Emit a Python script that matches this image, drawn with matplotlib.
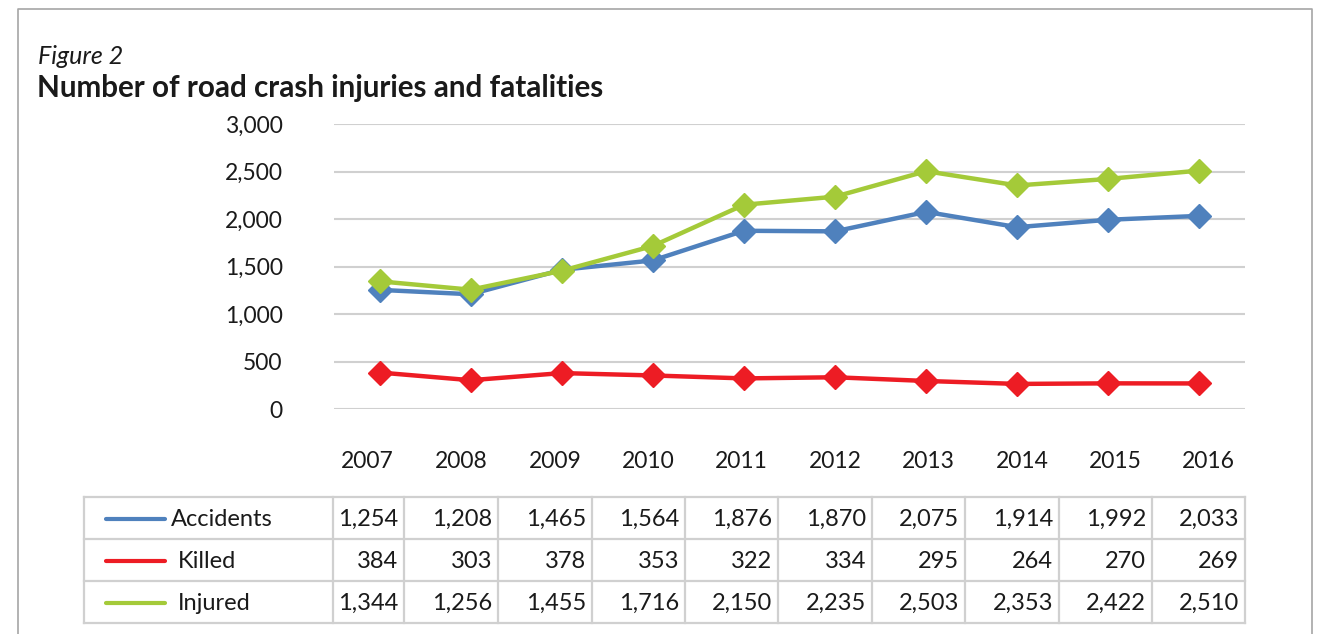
import matplotlib.pyplot as plt
from matplotlib.lines import Line2D
import numpy as np

years = ["2007", "2008", "2009", "2010", "2011", "2012", "2013", "2014", "2015", "2016"]
accidents = [1254, 1208, 1465, 1564, 1876, 1870, 2075, 1914, 1992, 2033]
killed = [384, 303, 378, 353, 322, 334, 295, 264, 270, 269]
injured = [1344, 1256, 1455, 1716, 2150, 2235, 2503, 2353, 2422, 2510]

series_names = ["Accidents", "Killed", "Injured"]
series_colors = ["#4F81BD", "#ED1C24", "#A4CA39"]
series_values = [accidents, killed, injured]

W, H = 1321, 634
plt.rcParams['font.family'] = ['Lato', 'DejaVu Sans']
fig = plt.figure(figsize=(W / 100, H / 100), dpi=100)

def fx(px):
    return px / W

def fy(py):
    return 1 - py / H

txt_col = "#1A1A1A"

# outer frame (open at the bottom)
frame_col = "#A6A6A6"
fig.add_artist(Line2D([fx(18), fx(18), fx(1312), fx(1312)],
                      [0, fy(9), fy(9), 0], color=frame_col, lw=1.2,
                      transform=fig.transFigure))

fig.text(fx(38), fy(57), "Figure 2", style="italic", fontsize=18,
         color=txt_col, va="center", ha="left")
fig.text(fx(37), fy(88), "Number of road crash injuries and fatalities",
         fontweight="bold", fontsize=21.3, color=txt_col, va="center", ha="left")

# main chart
left, right = 334, 1245
ax = fig.add_axes([fx(left), fy(409), fx(right) - fx(left), fy(124) - fy(409)])
x = np.arange(len(years))
ax.set_xlim(-0.5, len(years) - 0.5)
ax.set_ylim(0, 3000)
ax.set_yticks(range(0, 3001, 500))
ax.set_yticklabels([f"{v:,}" for v in range(0, 3001, 500)], fontsize=16.5, color=txt_col)
ax.tick_params(axis="y", length=0, pad=37)
ax.set_xticks(x)
ax.set_xticklabels([])
ax.tick_params(axis="x", length=0)
ax.grid(axis="y", color="#D0D0D0", lw=1.5)
ax.set_axisbelow(True)
for s in ax.spines.values():
    s.set_visible(False)
ax.patch.set_visible(False)

for vals, col in zip(series_values, series_colors):
    ax.plot(x, vals, color=col, lw=3.2, marker="D", ms=12.5, clip_on=False)

# data table underneath (pixel coordinates)
tab = fig.add_axes([0, 0, 1, 1])
tab.set_xlim(0, W)
tab.set_ylim(H, 0)
tab.axis("off")
tab.patch.set_visible(False)

col_edges = [84, 333, 404, 498, 592, 685, 778, 872, 965, 1059, 1152, 1245]
row_edges = [497, 539, 581, 623]
grid_col = "#D0D0D0"
for ry in row_edges:
    tab.plot([col_edges[0], col_edges[-1]], [ry, ry], color=grid_col, lw=1.6)
for cx in col_edges:
    tab.plot([cx, cx], [row_edges[0], row_edges[-1]], color=grid_col, lw=1.6)

# year header above the value columns
for i, yr in enumerate(years):
    tab.text(col_edges[i + 2] - 10, 462, yr, fontsize=16.5, color=txt_col,
             va="center", ha="right")

for r, (name, col, vals) in enumerate(zip(series_names, series_colors, series_values)):
    ly = (row_edges[r] + row_edges[r + 1]) / 2 + 1
    tab.plot([106, 165], [ly, ly], color=col, lw=3, solid_capstyle="round")
    tab.text(171 if r == 0 else 178, ly, name, fontsize=17, color=txt_col,
             va="center", ha="left")
    for i, v in enumerate(vals):
        tab.text(col_edges[i + 2] - 6, ly, f"{v:,}", fontsize=17, color=txt_col,
                 va="center", ha="right")

fig.savefig("out.png", dpi=100)
